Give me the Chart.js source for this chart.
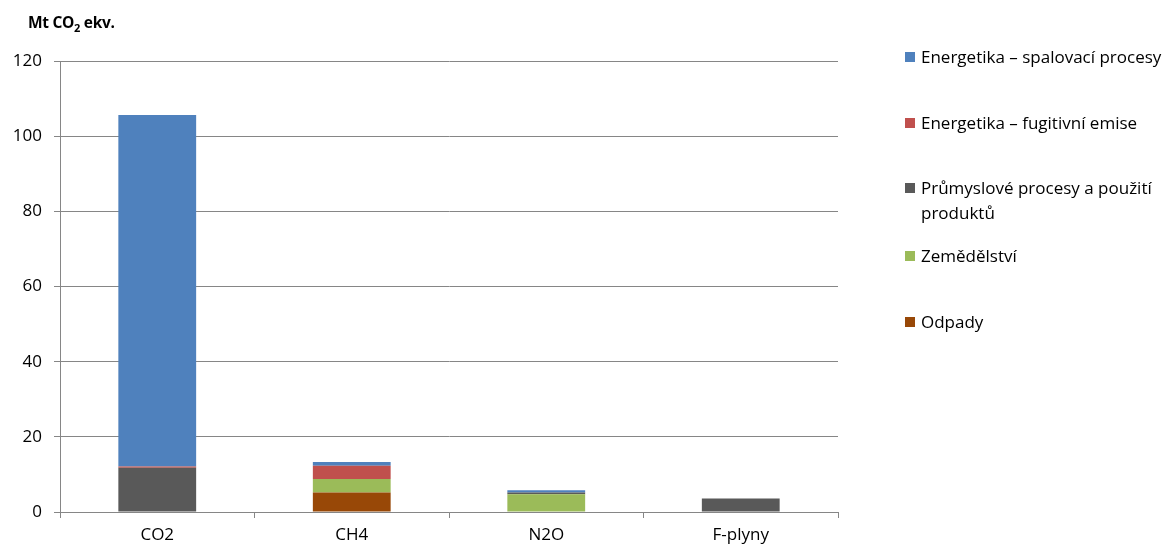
<!DOCTYPE html>
<html>
<head>
<meta charset="utf-8">
<script src="https://cdn.jsdelivr.net/npm/chart.js@4"></script>
<style>
  body { margin: 0; background: #fff; font-family: "Open Sans", sans-serif; }
  #wrap { position: relative; width: 1172px; height: 549px; }
  #title { position: absolute; left: 28px; top: 11px; font-weight: bold; font-size: 15.5px; color: #000; letter-spacing: -0.3px; }
  #title sub { font-size: 11px; }
  .leg { position: absolute; left: 905px; width: 266px; font-size: 17px; color: #000; line-height: 25px; }
  .leg .sw { position: absolute; left: 0; top: 8px; width: 10px; height: 10px; }
  .leg .tx { margin-left: 16px; display: block; }
</style>
</head>
<body>
<div id="wrap">
  <canvas id="c" width="1172" height="549"></canvas>
  <div id="title">Mt CO<sub>2</sub> ekv.</div>
  <div id="legend"></div>
</div>
<script>
const categories = ["CO2", "CH4", "N2O", "F-plyny"];
const seriesNames = [
  "Odpady",
  "Zemědělství",
  "Průmyslové procesy a použití produktů",
  "Energetika – fugitivní emise",
  "Energetika – spalovací procesy"
];
const odpady = [0, 5.2, 0, 0];
const zemedelstvi = [0, 3.6, 4.7, 0];
const prumysl = [11.8, 0, 0.5, 3.6];
const fugitivni = [0.3, 3.5, 0, 0];
const spalovaci = [93.5, 1.0, 0.6, 0];
const colors = ["#984807", "#9BBB59", "#595959", "#C0504D", "#4F81BD"];
const yTicks = [0, 20, 40, 60, 80, 100, 120];

const values = [odpady, zemedelstvi, prumysl, fugitivni, spalovaci];
const datasets = seriesNames.map((name, i) => ({
  label: name,
  data: values[i],
  backgroundColor: colors[i],
  borderWidth: 0,
  categoryPercentage: 1,
  barPercentage: 0.4
}));

// legend, top to bottom is reverse of stacking
const legendTops = [44, 110, 175, 243, 309];
const leg = document.getElementById("legend");
datasets.slice().reverse().forEach((d, i) => {
  const el = document.createElement("div");
  el.className = "leg";
  el.style.top = legendTops[i] + "px";
  el.innerHTML = '<span class="sw" style="background:' + d.backgroundColor + '"></span><span class="tx">' + d.label + '</span>';
  leg.appendChild(el);
});

new Chart(document.getElementById("c"), {
  type: "bar",
  data: { labels: categories, datasets: datasets },
  options: {
    responsive: false,
    animation: false,
    layout: { padding: { top: 61, right: 334, left: 0, bottom: 0 } },
    plugins: { legend: { display: false }, tooltip: { enabled: false } },
    scales: {
      x: {
        stacked: true,
        afterFit: (s) => { s.height = 37; },
        border: { color: "#868686", width: 1 },
        grid: { offset: true, drawOnChartArea: false, drawTicks: true, tickLength: 6, color: "#868686" },
        ticks: { color: "#000", font: { family: "Open Sans", size: 17 }, padding: 7 }
      },
      y: {
        stacked: true,
        min: 0,
        max: 120,
        afterFit: (s) => { s.width = 60; },
        afterBuildTicks: (s) => { s.ticks = yTicks.map(v => ({ value: v })); },
        border: { color: "#868686", width: 1 },
        grid: { color: "#868686", tickLength: 6 },
        ticks: { color: "#000", font: { family: "Open Sans", size: 17 }, padding: 12 }
      }
    }
  }
});
</script>
</body>
</html>
